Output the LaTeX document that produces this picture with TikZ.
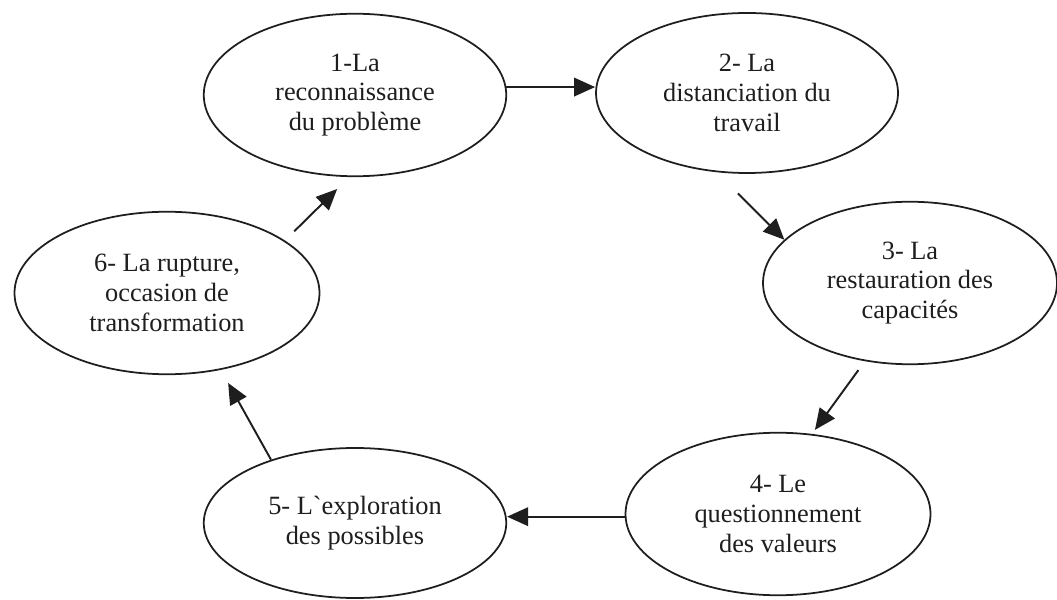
\documentclass[tikz,border=0pt]{standalone}
\usepackage{fontspec}
\setmainfont{Liberation Serif}
\usetikzlibrary{shapes.geometric,arrows.meta,calc}
\definecolor{inkgray}{RGB}{30,30,30}

\begin{document}
\begin{tikzpicture}[
    etape/.style={ellipse,draw=inkgray,line width=1pt,inner sep=0pt,
      minimum width=6.05cm,minimum height=3.25cm,align=center,
      font=\fontsize{15}{17}\selectfont,text=inkgray},
    fleche/.style={draw=inkgray,line width=1.1pt,
      -{Triangle[length=0.42cm,width=0.37cm]}}
  ]
  \useasboundingbox (0,0) rectangle (21.14,11.98);

  % Stages of the cycle
  \node[etape] (e1) at (7.10,10.08) {1-La\\reconnaissance\\du problème};
  \node[etape,minimum width=6.04cm,minimum height=3.2cm] (e2) at (14.94,10.12) {2- La\\distanciation du\\travail};
  \node[etape,minimum width=5.88cm] (e3) at (18.20,6.32) {3- La\\restauration des\\capacités};
  \node[etape,minimum width=6.1cm] (e4) at (15.56,1.70) {4- Le\\questionnement\\des valeurs};
  \node[etape,minimum height=3.0cm] (e5) at (7.10,1.52) {5- L\textasciigrave exploration\\des possibles};
  \node[etape,minimum width=6.1cm] (e6) at (3.34,6.12) {6- La rupture,\\occasion de\\transformation};

  % Arrows between stages
  \draw[fleche] (e1.3) -- (e1.3 -| e2.west);
  \draw[fleche,shorten <=0.6cm] (e2.-111) -- (e3.161);
  \draw[fleche,shorten <=0.22cm,shorten >=0.1cm] (e3.-120) -- (e4.67);
  \draw[fleche] (e4.181) -- (e4.181 -| e5.east);
  \draw[fleche,shorten >=0.3cm] (e5.143) -- (e6.-55);
  \draw[fleche,shorten <=0.26cm,shorten >=0.34cm] (e6.24) -- (e1.-94);
\end{tikzpicture}
\end{document}
